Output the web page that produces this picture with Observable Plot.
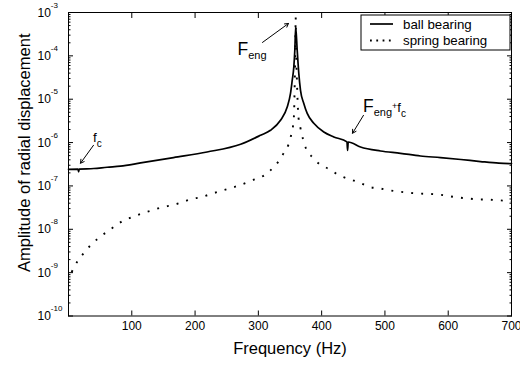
<!DOCTYPE html>
<html><head><meta charset="utf-8">
<script src="https://cdn.jsdelivr.net/npm/d3@7"></script>
<script src="https://cdn.jsdelivr.net/npm/@observablehq/plot@0.6"></script>
<style>
body{margin:0;background:#fff;}
#chart{width:520px;height:365px;position:relative;}
</style></head><body><div id="chart"></div>
<script>
// ---- data ----
const ballFreq = [0,15,16,17,40,61,82,114,166,219,272,303.4,319.2,335,345.6,350.8,353.5,356,357.6,359,361.4,363.9,366.6,371.8,377.2,387.6,403.4,419.2,440,441,442,461.4,493,524.6,556.2,587.8,620,651,680,700];
const ballAmp = [2.42e-7,2.44e-7,2.12e-7,2.45e-7,2.52e-7,2.7e-7,2.85e-7,3.39e-7,4.51e-7,6.07e-7,9.14e-7,1.47e-6,1.92e-6,3.26e-6,6.6e-6,1.36e-5,2.72e-5,5.5e-5,1.33e-4,4.6e-4,1.33e-4,3.94e-5,1.6e-5,8.0e-6,4.7e-6,2.78e-6,1.75e-6,1.35e-6,1.04e-6,6.6e-7,1.03e-6,7.9e-7,6.4e-7,5.66e-7,4.9e-7,4.5e-7,4.07e-7,3.65e-7,3.35e-7,3.28e-7];
const springFreq = [5,14,24,35,47,60,73,87,101,117,133,148,164,180,193,209,229,245,261,288,316,338,351,356,357.5,358.5,359,359.5,361,363.4,366.6,374.5,385.5,395,409,422,434.5,448.8,461.4,477,490,505.6,525,545,577,592.5,611.5,627,643,659,678,700];
const springAmp = [1.03e-9,1.8e-9,2.8e-9,4.3e-9,6.2e-9,8.6e-9,1.17e-8,1.6e-8,1.91e-8,2.36e-8,2.76e-8,3.24e-8,3.6e-8,4.22e-8,4.94e-8,5.5e-8,6.8e-8,7.96e-8,9.35e-8,1.3e-7,2.07e-7,5.1e-7,1.32e-6,3.6e-6,2.5e-5,2e-4,7.7e-4,2e-4,2.5e-5,3.8e-6,2.13e-6,7.8e-7,4.58e-7,3.33e-7,2.56e-7,1.96e-7,1.59e-7,1.36e-7,1.16e-7,9.35e-8,8.87e-8,7.98e-8,7.3e-8,6.8e-8,6.44e-8,6.11e-8,5.5e-8,5.21e-8,4.94e-8,4.85e-8,4.69e-8,4.4e-8];
const seriesNames = ["ball bearing","spring bearing"];
const xTickValues = [100,200,300,400,500,600,700];
const yTickValues = [1e-10,1e-9,1e-8,1e-7,1e-6,1e-5,1e-4,1e-3];
const yTickLabels = ["10^{-10}","10^{-9}","10^{-8}","10^{-7}","10^{-6}","10^{-5}","10^{-4}","10^{-3}"];
const xLabel = "Frequency (Hz)";
const yLabel = "Amplitude of radial displacement";
const annotationLabels = ["f_{c}","F_{eng}","F_{eng}^{+}f_{c}"];
const annotationFreq = [38.7,267,465.3];
const annotationAmp = [1.016e-6,1.023e-4,4.98e-6];
const arrowFreqFrom = [39.5,306.5,466.1];
const arrowAmpFrom = [8.66e-7,2.04e-4,4.25e-6];
const arrowFreqTo = [19,347.6,448.8];
const arrowAmpTo = [3.34e-7,5.58e-4,1.64e-6];

// ---- build ----
const FONT = '"Liberation Sans", Arial, Helvetica, sans-serif';
const ball = ballFreq.map((f,i)=>({f, v: ballAmp[i]}));
const spring = springFreq.map((f,i)=>({f, v: springAmp[i]}));
const ann = annotationLabels.map((label,i)=>({label, f: annotationFreq[i], v: annotationAmp[i]}));
const arrows = arrowFreqFrom.map((f,i)=>({f1:f, v1:arrowAmpFrom[i], f2:arrowFreqTo[i], v2:arrowAmpTo[i]}));
const minorTicks = [];
for (let e = -10; e < -3; e++) for (let m = 2; m <= 9; m++) minorTicks.push(m * Math.pow(10, e));

const plot = Plot.plot({
  width: 520, height: 365,
  marginLeft: 68, marginRight: 9, marginTop: 12, marginBottom: 49.5,
  x: {domain: [0, 700]},
  y: {type: "log", domain: [1e-10, 1e-3]},
  style: {fontFamily: FONT, background: "white", color: "black"},
  marks: [
    Plot.axisX(xTickValues, {anchor: "bottom", tickSize: -5, fill: "none", label: null}),
    Plot.axisX(xTickValues, {anchor: "top", tickSize: -5, fill: "none", label: null}),
    Plot.axisX(xTickValues, {anchor: "bottom", tickSize: 0, tickPadding: 5, fontSize: 12, label: null}),
    Plot.axisY(yTickValues, {anchor: "left", tickSize: -5, fill: "none", label: null}),
    Plot.axisY(yTickValues, {anchor: "right", tickSize: -5, fill: "none", label: null}),
    Plot.axisY(minorTicks, {anchor: "left", tickSize: -2.5, fill: "none", label: null}),
    Plot.axisY(minorTicks, {anchor: "right", tickSize: -2.5, fill: "none", label: null}),
    Plot.text(yTickValues, {y: d => d, text: (d, i) => yTickLabels[i], frameAnchor: "left", dx: -31, dy: 4, textAnchor: "start", lineAnchor: "bottom", fontSize: 12}),
    Plot.line(spring, {x: "f", y: "v", curve: "monotone-x", stroke: "black", strokeWidth: 1.9, strokeDasharray: "1.9,8.1", strokeLinecap: "butt"}),
    Plot.line(ball, {x: "f", y: "v", curve: "monotone-x", stroke: "black", strokeWidth: 1.7}),
    Plot.arrow(arrows, {x1: "f1", y1: "v1", x2: "f2", y2: "v2", headLength: 6, strokeWidth: 1, stroke: "black"}),
    Plot.text(ann, {x: "f", y: "v", text: "label", textAnchor: "start", lineAnchor: "bottom", fontSize: 12}),
    Plot.text([xLabel], {frameAnchor: "bottom", dy: 37.5, lineAnchor: "bottom", textAnchor: "middle", fontSize: 16.5}),
    Plot.text([yLabel], {frameAnchor: "left", dx: -44, dy: -11.5, rotate: -90, textAnchor: "middle", fontSize: 16.5}),
    Plot.frame({stroke: "black"})
  ]
});
document.getElementById("chart").appendChild(plot);

// ---- rich text (sub/superscripts) ----
const annSizes = [[13.5,10],[17.5,11],[17.5,11,9,13,10]];
const annShifts = [[0,5],[0,4],[0,4,-3.5,0,4.5]];
function parseRich(s){
  const out = []; const re = /([_^])\{([^}]*)\}|([^_^]+)/g; let m;
  while ((m = re.exec(s))) out.push(m[3] !== undefined ? {t: m[3], k: "n"} : {t: m[2], k: m[1]});
  return out;
}
plot.querySelectorAll("text").forEach(t => {
  const s = t.textContent;
  if (!/[_^]\{/.test(s)) return;
  const segs = parseRich(s);
  let sizes, shifts;
  const ai = annotationLabels.indexOf(s);
  if (ai >= 0) { sizes = annSizes[ai]; shifts = annShifts[ai]; }
  else { sizes = segs.map(g => g.k === "^" ? 8 : 12); shifts = segs.map(g => g.k === "^" ? -9 : 0); }
  t.textContent = "";
  let prev = 0;
  segs.forEach((g, i) => {
    const ts = document.createElementNS("http://www.w3.org/2000/svg", "tspan");
    ts.setAttribute("font-size", sizes[i]);
    ts.setAttribute("dy", shifts[i] - prev);
    prev = shifts[i];
    ts.textContent = g.t;
    t.appendChild(ts);
  });
});

// ---- legend (inside the axes box, top right) ----
const svg = d3.select(plot);
const lg = svg.append("g").attr("font-family", FONT).attr("font-size", 13.3).attr("text-anchor", "start");
lg.append("rect").attr("x", 361).attr("y", 15).attr("width", 149).attr("height", 35).attr("fill", "white").attr("stroke", "black");
const rows = [{y: 24, dash: null, w: 1.7}, {y: 40.5, dash: "1.8,4.5", w: 1.8}];
seriesNames.forEach((name, i) => {
  const r = rows[i];
  const ln = lg.append("line").attr("x1", 370).attr("x2", 393).attr("y1", r.y).attr("y2", r.y).attr("stroke", "black").attr("stroke-width", r.w);
  if (r.dash) ln.attr("stroke-dasharray", r.dash);
  lg.append("text").attr("x", 403).attr("y", r.y + 4.5).attr("fill", "black").attr("text-anchor", "start").text(name);
});
</script>
</body></html>
